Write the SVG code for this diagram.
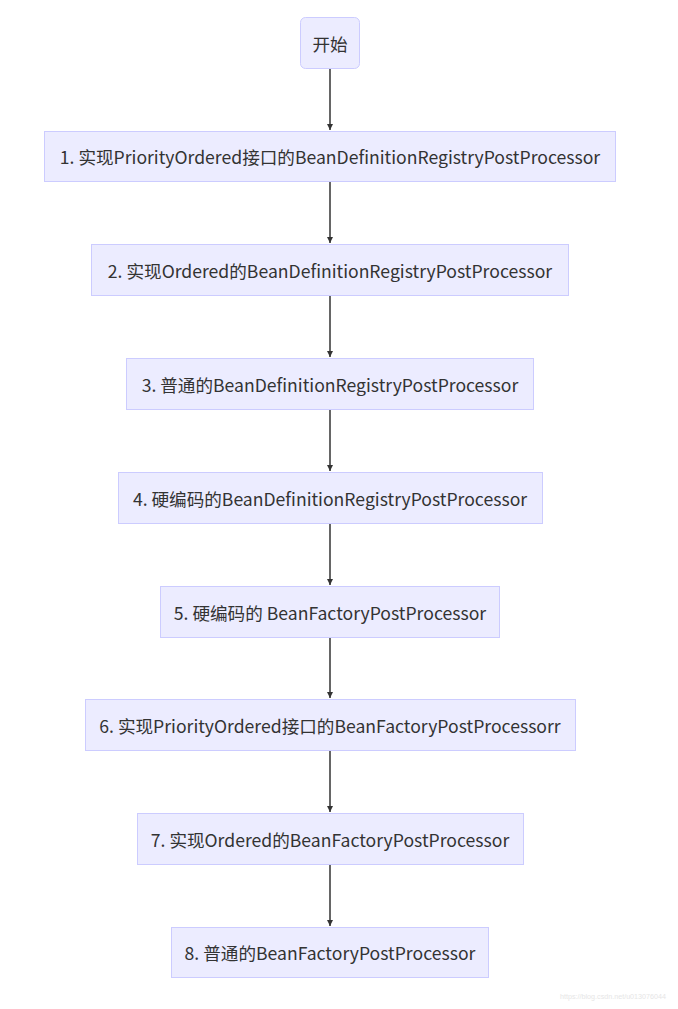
<svg xmlns="http://www.w3.org/2000/svg" width="678" height="1009" viewBox="0 0 678 1009">
<style>
.n{fill:#ECECFF;stroke:#CCCCFF;stroke-width:1}
.t{font-family:"Noto Sans CJK SC","Microsoft YaHei",sans-serif;font-size:17.6px;fill:#333;text-anchor:middle;dominant-baseline:central}
.e{stroke:#333;stroke-width:1.5;fill:none;marker-end:url(#a)}
.w{font-family:"Liberation Sans",sans-serif;font-size:8px;fill:#e6e6e6}
</style>
<defs>
<marker id="a" viewBox="0 0 10 10" refX="10" refY="5" markerWidth="6" markerHeight="6" markerUnits="userSpaceOnUse" orient="auto">
<path d="M0,0 L10,5 L0,10 z" fill="#333"/>
</marker>
</defs>
<rect width="678" height="1009" fill="#fff"/>
<g id="edges">
<line class="e" x1="330" y1="68" x2="330" y2="130"/>
<line class="e" x1="330" y1="182" x2="330" y2="243"/>
<line class="e" x1="330" y1="296" x2="330" y2="357"/>
<line class="e" x1="330" y1="410" x2="330" y2="471"/>
<line class="e" x1="330" y1="524" x2="330" y2="585"/>
<line class="e" x1="330" y1="638" x2="330" y2="698"/>
<line class="e" x1="330" y1="751" x2="330" y2="812"/>
<line class="e" x1="330" y1="865" x2="330" y2="926"/>
</g>
<g id="start"><rect class="n" x="300.5" y="17.5" width="59" height="51" rx="5"/><text class="t" x="330" y="43">开始</text></g>
<g id="n1"><rect class="n" x="44.5" y="131.5" width="571" height="50"/><text class="t" x="330" y="156.5">1. 实现PriorityOrdered接口的BeanDefinitionRegistryPostProcessor</text></g>
<g id="n2"><rect class="n" x="91.5" y="244.5" width="477" height="51"/><text class="t" x="330" y="270">2. 实现Ordered的BeanDefinitionRegistryPostProcessor</text></g>
<g id="n3"><rect class="n" x="126.5" y="358.5" width="407" height="51"/><text class="t" x="330" y="384">3. 普通的BeanDefinitionRegistryPostProcessor</text></g>
<g id="n4"><rect class="n" x="118.5" y="472.5" width="424" height="51"/><text class="t" x="330" y="498">4. 硬编码的BeanDefinitionRegistryPostProcessor</text></g>
<g id="n5"><rect class="n" x="160.5" y="586.5" width="339" height="51"/><text class="t" x="330" y="612">5. 硬编码的 BeanFactoryPostProcessor</text></g>
<g id="n6"><rect class="n" x="85.5" y="699.5" width="490" height="51"/><text class="t" x="330" y="725">6. 实现PriorityOrdered接口的BeanFactoryPostProcessorr</text></g>
<g id="n7"><rect class="n" x="137.5" y="813.5" width="386" height="51"/><text class="t" x="330" y="839">7. 实现Ordered的BeanFactoryPostProcessor</text></g>
<g id="n8"><rect class="n" x="171.5" y="927.5" width="317" height="50"/><text class="t" x="330" y="952.5">8. 普通的BeanFactoryPostProcessor</text></g>
<text class="w" x="560" y="999" textLength="106" lengthAdjust="spacingAndGlyphs">https://blog.csdn.net/u013076044</text>
</svg>
